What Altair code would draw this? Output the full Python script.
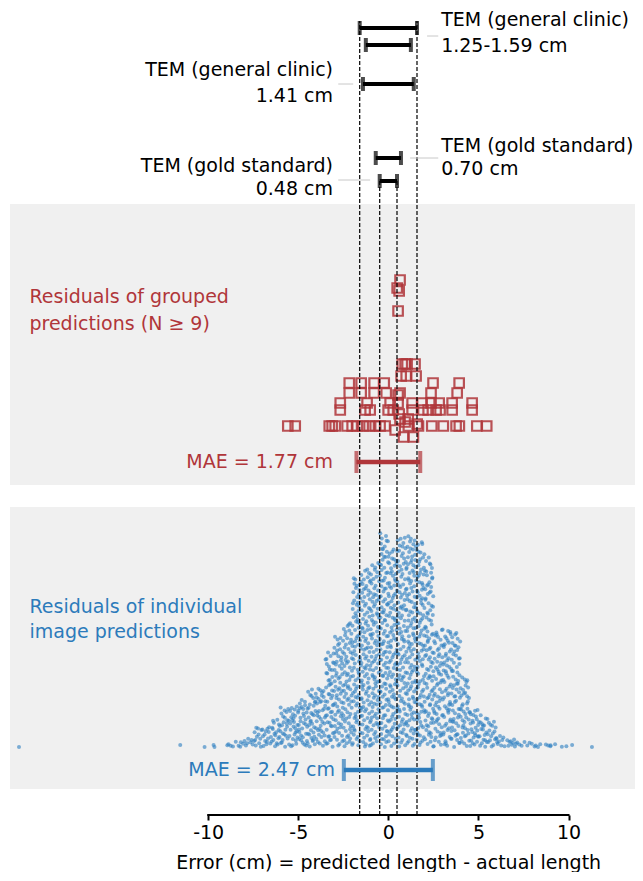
import altair as alt
import pandas as pd

FONT = "DejaVu Sans"
RED = "#b0363a"
BLUE = "#2c7bbb"
DOT = "#3081c1"
GREY_BG = "#f0f0f0"

# plot geometry (x in cm, y in layout units: 0 = axis line)
X_MIN, X_MAX = -21.0, 13.69
W, H = 625, 807

# ---- TEM intervals (half widths in cm) and their rows
tem_half = [1.59, 1.25, 1.41, 0.70, 0.48]
tem_row = [787, 770, 731, 657, 634]

# ---- dashed reference lines
ref_x = [-1.59, -0.48, 0.48, 1.59]
ref_top = [794, 634, 634, 794]

# ---- annotations
ann_right_text = ["TEM (general clinic)", "1.25-1.59 cm", "TEM (gold standard)", "0.70 cm"]
ann_right_y = [795, 769, 669, 646]
ann_left_text = ["TEM (general clinic)", "1.41 cm", "TEM (gold standard)", "0.48 cm"]
ann_left_y = [745, 719, 649, 626]
ann_right_x = 2.93
ann_left_x = -3.07

lead_x1 = [2.15, -2.78, 1.21, -2.78]
lead_x2 = [2.77, -1.95, 2.77, -1.01]
lead_y = [779, 731, 657, 635]

# ---- grey panels
panel_lo = [330, 26]
panel_hi = [611, 308]

# ---- MAE bars
mae_group = ["grouped", "individual"]
mae_value = [1.77, 2.47]
mae_row = [353, 45]
mae_label = ["MAE = 1.77 cm", "MAE = 2.47 cm"]
mae_label_x = [-3.07, -2.96]

group_label_text = ["Residuals of grouped", "predictions (N \u2265 9)",
                    "Residuals of individual", "image predictions"]
group_label_group = ["grouped", "grouped", "individual", "individual"]
group_label_y = [518, 491, 208, 183]
group_label_x = -19.92

# ---- residuals of grouped predictions (cm, row)
red_x = [0.65, 0.49, 0.60, 0.54,
         0.77, 0.93, 1.04, 1.48,
         0.71, 0.99, 1.54,
         -2.17, -1.51, -0.79, -0.23, 2.48, 3.93,
         -2.17, -1.51, -0.79, -0.12, 0.65, 2.37, 3.82,
         -2.67, -1.18, 0.10, 0.54, 1.32, 1.87, 2.37, 2.82, 3.54, 4.65,
         -2.67, -1.29, -1.01, -0.01, 0.27, 1.32, 1.92, 2.21, 2.65, 2.87, 3.54, 4.65,
         -5.58, -5.17, -3.28, -3.12, -2.95, -2.29, -2.01, -1.73, -1.40, -1.07,
         -0.73, -0.46, -0.18, 1.11, 1.67, 2.41, 3.05, 3.76, 3.94, 4.91, 5.46,
         0.54, 0.60, 0.65, 0.93, 0.38, 0.84, 1.39, 1.10, 1.60]
red_y = [535, 527, 524, 504,
         451, 451, 451, 451,
         439, 439, 439,
         432, 432, 432, 432, 432, 432,
         422, 422, 422, 422, 422, 422, 422,
         412, 412, 412, 412, 412, 412, 412, 412, 412, 412,
         405, 405, 405, 405, 405, 405, 405, 405, 405, 405, 405, 405,
         389, 389, 389, 389, 389, 389, 389, 389, 389, 389,
         389, 389, 389, 389, 389, 389, 389, 389, 389, 389, 389,
         420, 401, 396, 393, 385, 378, 378, 396, 391]

# ---- residuals of individual predictions: per 0.5 cm bin, count and swarm height
blue_bin_lo = [-9.0, -8.5, -8.0, -7.5, -7.0, -6.5, -6.0, -5.5, -5.0, -4.5, -4.0,
               -3.5, -3.0, -2.5, -2.0, -1.5, -1.0, -0.5, 0.0, 0.5, 1.0, 1.5,
               2.0, 2.5, 3.0, 3.5, 4.0, 4.5, 5.0, 5.5, 6.0, 6.5, 7.0, 7.5,
               8.0, 8.5, 9.0, 9.5]
blue_bin_count = [4, 5, 7, 12, 14, 18, 24, 26, 30, 34, 36,
                  52, 60, 66, 88, 92, 96, 108, 100, 104, 108, 104,
                  95, 62, 62, 60, 40, 24, 20, 16, 9, 7, 5, 4,
                  4, 3, 2, 2]
blue_bin_height = [4, 6, 10, 20, 22, 28, 40, 42, 48, 58, 60,
                   95, 113, 125, 170, 178, 185, 214, 200, 210, 213, 206,
                   190, 118, 118, 114, 72, 38, 32, 26, 12, 8, 6, 5,
                   4, 3, 3, 2]
blue_outliers = [-20.5, -11.55, -10.2, -9.7, -9.65, 10.2, 11.3]
BLUE_BASE = 68

axis_ticks = [-10, -5, 0, 5, 10]


# ---------------------------------------------------------------- tables
def halton(i, b):
    f, r = 1.0, 0.0
    while i > 0:
        f /= b
        r += f * (i % b)
        i //= b
    return r


bx, by = [], []
k = 1
for lo, n, h in zip(blue_bin_lo, blue_bin_count, blue_bin_height):
    for _ in range(n):
        bx.append(lo + 0.5 * halton(k, 2))
        by.append(BLUE_BASE + h * halton(k, 3))
        k += 1
for i, o in enumerate(blue_outliers):
    bx.append(o)
    by.append(BLUE_BASE + (i % 2) * 2)
blue_df = pd.DataFrame({"x": bx, "y": by})
red_df = pd.DataFrame({"x": red_x, "y": red_y})

tem_df = pd.DataFrame({"lo": [-h for h in tem_half], "hi": tem_half, "row": tem_row})
tem_caps = pd.DataFrame({"x": [-h for h in tem_half] + tem_half, "row": tem_row + tem_row})
ref_df = pd.DataFrame({"x": ref_x, "top": ref_top, "bottom": [0] * len(ref_x)})
panel_df = pd.DataFrame({"lo": panel_lo, "hi": panel_hi})
lead_df = pd.DataFrame({"x1": lead_x1, "x2": lead_x2, "y": lead_y})
ann_r = pd.DataFrame({"t": ann_right_text, "y": ann_right_y, "x": [ann_right_x] * 4})
ann_l = pd.DataFrame({"t": ann_left_text, "y": ann_left_y, "x": [ann_left_x] * 4})
mae_df = pd.DataFrame({"g": mae_group, "lo": [-v for v in mae_value], "hi": mae_value,
                       "row": mae_row, "t": mae_label, "tx": mae_label_x})
mae_caps = pd.DataFrame({"g": mae_group * 2, "x": [-v for v in mae_value] + mae_value,
                         "row": mae_row * 2})
glab_df = pd.DataFrame({"t": group_label_text, "g": group_label_group,
                        "y": group_label_y, "x": [group_label_x] * 4})
axis_df = pd.DataFrame({"lo": [min(axis_ticks)], "hi": [max(axis_ticks)], "y": [0]})

# ---------------------------------------------------------------- encodings
xscale = alt.Scale(domain=[X_MIN, X_MAX], nice=False, zero=False)
yscale = alt.Scale(domain=[0, H], nice=False, zero=False)
xaxis = alt.Axis(values=axis_ticks, grid=False, domain=False, ticks=True,
                 tickSize=5, tickWidth=2, tickColor="black",
                 labelFont=FONT, labelFontSize=19, labelColor="black", labelPadding=3,
                 labelExpr="'' + datum.value", labelFlush=False, labelOverlap=False,
                 title="Error (cm) = predicted length - actual length",
                 titleFont=FONT, titleFontSize=19, titleFontWeight="normal",
                 titleColor="black", titleX=378.2, titleY=47, titleAlign="center",
                 titleBaseline="middle")
gcolor = alt.Color("g:N", scale=alt.Scale(domain=mae_group, range=[RED, BLUE]), legend=None)


def X(f):
    return alt.X(f, type="quantitative", scale=xscale, axis=xaxis)


def Y(f):
    return alt.Y(f, type="quantitative", scale=yscale, axis=None)


panels = alt.Chart(panel_df).mark_rect(color=GREY_BG).encode(
    x=alt.value(0), x2=alt.value(W), y=Y("lo"), y2="hi")

blue = alt.Chart(blue_df).mark_circle(size=16, opacity=0.62, color=DOT).encode(x=X("x"), y=Y("y"))
red = alt.Chart(red_df).mark_point(shape="square", filled=False, size=90, strokeWidth=2.2,
                                   color=RED, opacity=0.85).encode(x=X("x"), y=Y("y"))

refs = alt.Chart(ref_df).mark_rule(strokeDash=[4, 2], strokeWidth=1.2, color="black").encode(
    x=X("x"), y=Y("bottom"), y2="top")

tem_bars = alt.Chart(tem_df).mark_rule(strokeWidth=4, color="black").encode(
    x=X("lo"), x2="hi", y=Y("row"))
tem_cap = alt.Chart(tem_caps).mark_tick(orient="vertical", thickness=4, size=14, color="black").encode(
    x=X("x"), y=Y("row"))

leads = alt.Chart(lead_df).mark_rule(strokeWidth=1, color="#c8c8c8").encode(
    x=X("x1"), x2="x2", y=Y("y"))

txt_r = alt.Chart(ann_r).mark_text(align="left", baseline="middle", font=FONT, fontSize=19,
                                   color="black").encode(x=X("x"), y=Y("y"), text="t:N")
txt_l = alt.Chart(ann_l).mark_text(align="right", baseline="middle", font=FONT, fontSize=19,
                                   color="black").encode(x=X("x"), y=Y("y"), text="t:N")

mae_bars = alt.Chart(mae_df).mark_rule(strokeWidth=4.5).encode(
    x=X("lo"), x2="hi", y=Y("row"), color=gcolor)
mae_cap = alt.Chart(mae_caps).mark_tick(orient="vertical", thickness=4, size=22).encode(
    x=X("x"), y=Y("row"), color=gcolor)
mae_txt = alt.Chart(mae_df).mark_text(align="right", baseline="middle", font=FONT,
                                      fontSize=19).encode(
    x=X("tx"), y=Y("row"), text="t:N", color=gcolor)
glab = alt.Chart(glab_df).mark_text(align="left", baseline="middle", font=FONT,
                                    fontSize=19).encode(
    x=X("x"), y=Y("y"), text="t:N", color=gcolor)

axis_line = alt.Chart(axis_df).mark_rule(strokeWidth=2, color="black", strokeCap="square").encode(
    x=X("lo"), x2="hi", y=Y("y"))

chart = alt.layer(
    panels, blue, red, refs, tem_bars, tem_cap, leads, txt_r, txt_l,
    mae_bars, mae_cap, mae_txt, glab, axis_line
).properties(
    width=W, height=H,
    padding={"left": 2, "top": 0, "right": 0, "bottom": 0},
    background="white",
).configure_view(stroke=None)

chart.save("out.html", embed_options={"renderer": "svg", "actions": False})
